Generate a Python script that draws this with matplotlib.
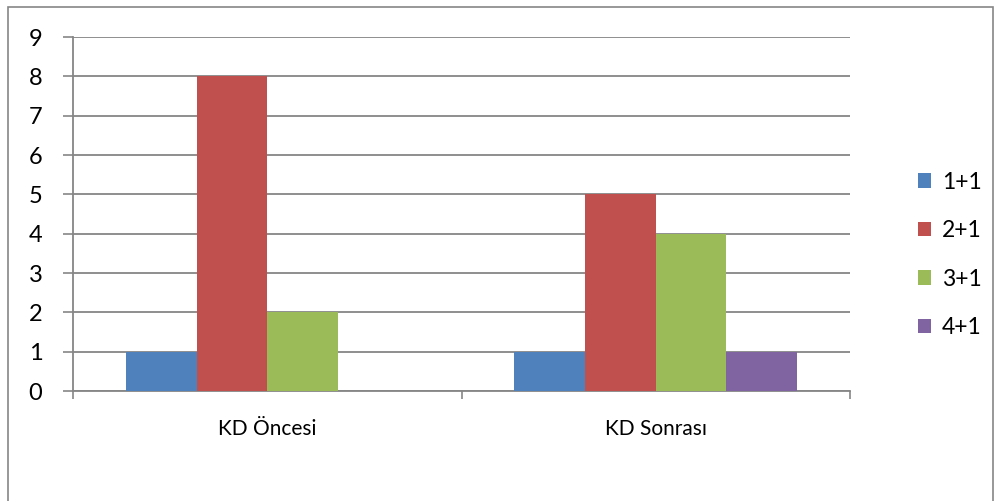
import matplotlib.pyplot as plt
import numpy as np
from matplotlib.patches import Rectangle

plt.rcParams['font.family'] = ['Lato', 'DejaVu Sans']

categories = ['KD Öncesi', 'KD Sonrası']
series = ['1+1', '2+1', '3+1', '4+1']
values = [[1, 1], [8, 5], [2, 4], [0, 1]]
colors = ['#4f81bd', '#c0504d', '#9bbb59', '#8064a2']

W, H = 998, 501
fig = plt.figure(figsize=(W / 100, H / 100), dpi=100)

# outer chart border (bottom edge falls outside the image)
fig.patches.append(Rectangle((8 / W, -0.1), (993 - 8) / W, 1.1 - 7 / H,
                             transform=fig.transFigure, fill=False,
                             edgecolor='#868686', linewidth=1.2))

ax = fig.add_axes([73 / W, 1 - 391 / H, (850 - 73) / W, (391 - 37) / H])

x = np.arange(len(categories))
bar_w = 1 / 5.5
for i, (name, vals) in enumerate(zip(series, values)):
    ax.bar(x + (i - 1.5) * bar_w, vals, bar_w, color=colors[i], label=name, zorder=3)

ax.set_xlim(-0.5, 1.5)
ax.set_ylim(0, 9)
ax.set_yticks(range(10))
ax.yaxis.grid(True, color='#868686', linewidth=1.3, zorder=0)

# category boundary ticks on x, labels at centres
ax.set_xticks([-0.5, 0.5, 1.5])
ax.set_xticklabels([])
ax.set_xticks(x, minor=True)
ax.set_xticklabels(categories, minor=True)
ax.tick_params(axis='x', which='major', length=6, width=1.2, color='#868686', direction='out')
ax.tick_params(axis='x', which='minor', length=0, pad=20, labelsize=15)
ax.tick_params(axis='y', length=7, width=1.2, color='#868686', labelsize=17, pad=15)

for s in ['top', 'right']:
    ax.spines[s].set_visible(False)
for s in ['left', 'bottom']:
    ax.spines[s].set_color('#868686')
    ax.spines[s].set_linewidth(1.3)

ax.legend(loc='center left', bbox_to_anchor=(897 / W, 1 - 255 / H),
          bbox_transform=fig.transFigure, frameon=False, fontsize=16.5,
          handlelength=0.6, handleheight=0.6, labelspacing=1.2, handletextpad=0.45)

fig.savefig('out.png', dpi=100)
